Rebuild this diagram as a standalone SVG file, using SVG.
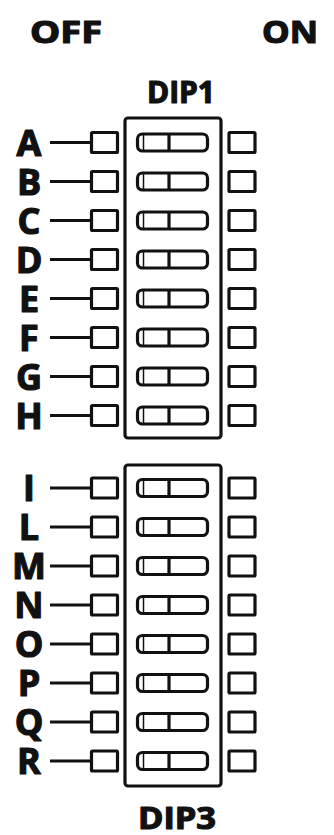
<svg xmlns="http://www.w3.org/2000/svg" xmlns:xlink="http://www.w3.org/1999/xlink" width="334" height="835" viewBox="0 0 334 835">
<style>
.t{font-family:"Open Sans","DejaVu Sans",sans-serif;font-weight:bold;fill:#111;stroke:#111;stroke-width:1.2;stroke-linejoin:round}
.lab{font-size:36px;text-anchor:middle}
.s{fill:none;stroke:#111;stroke-width:3.2}
.ln{stroke:#111;stroke-width:3.2}
.th{stroke:#111;stroke-width:1.5}
</style>
<defs>
<g id="row">
<rect class="s" x="91.5" y="-10" width="26" height="20" rx="1"/>
<rect class="s" x="229" y="-10" width="26" height="20" rx="1"/>
<rect class="s" x="137.5" y="-8.5" width="70" height="17" rx="5"/>
<line class="th" x1="143.5" y1="-8.5" x2="143.5" y2="8.5"/>
<line class="ln" x1="169" y1="-8.5" x2="169" y2="8.5"/>
</g>
</defs>
<rect width="334" height="835" fill="#fff"/>
<g id="headers">
<text class="t" x="30" y="43" font-size="31" textLength="72" lengthAdjust="spacingAndGlyphs">OFF</text>
<text class="t" x="262" y="43" font-size="31" textLength="56" lengthAdjust="spacingAndGlyphs">ON</text>
</g>
<g id="dip1">
<text class="t" x="147" y="103" font-size="30" textLength="68" lengthAdjust="spacingAndGlyphs">DIP1</text>
<rect class="s" x="125" y="118" width="96" height="320" rx="3"/>
</g>
<g id="dip3">
<rect class="s" x="125" y="465" width="96" height="321" rx="3"/>
<text class="t" x="138" y="829" font-size="30" textLength="78" lengthAdjust="spacingAndGlyphs">DIP3</text>
</g>
<g id="connectors">
<line class="ln" x1="50" y1="142.5" x2="90" y2="142.5"/>
<line class="ln" x1="50" y1="181.5" x2="90" y2="181.5"/>
<line class="ln" x1="50" y1="220.5" x2="90" y2="220.5"/>
<line class="ln" x1="50" y1="259.5" x2="90" y2="259.5"/>
<line class="ln" x1="50" y1="298.5" x2="90" y2="298.5"/>
<line class="ln" x1="50" y1="337.5" x2="90" y2="337.5"/>
<line class="ln" x1="50" y1="376.5" x2="90" y2="376.5"/>
<line class="ln" x1="50" y1="415.5" x2="90" y2="415.5"/>
<line class="ln" x1="50" y1="488" x2="90" y2="488"/>
<line class="ln" x1="50" y1="527" x2="90" y2="527"/>
<line class="ln" x1="50" y1="566" x2="90" y2="566"/>
<line class="ln" x1="50" y1="605" x2="90" y2="605"/>
<line class="ln" x1="50" y1="644" x2="90" y2="644"/>
<line class="ln" x1="50" y1="683" x2="90" y2="683"/>
<line class="ln" x1="50" y1="722" x2="90" y2="722"/>
<line class="ln" x1="50" y1="761" x2="90" y2="761"/>
</g>
<g id="sw-A"><use xlink:href="#row" y="142.5"/><text class="t lab" x="29" y="155.5">A</text></g>
<g id="sw-B"><use xlink:href="#row" y="181.5"/><text class="t lab" x="29" y="194.5">B</text></g>
<g id="sw-C"><use xlink:href="#row" y="220.5"/><text class="t lab" x="29" y="233.5">C</text></g>
<g id="sw-D"><use xlink:href="#row" y="259.5"/><text class="t lab" x="29" y="272.5">D</text></g>
<g id="sw-E"><use xlink:href="#row" y="298.5"/><text class="t lab" x="29" y="311.5">E</text></g>
<g id="sw-F"><use xlink:href="#row" y="337.5"/><text class="t lab" x="29" y="350.5">F</text></g>
<g id="sw-G"><use xlink:href="#row" y="376.5"/><text class="t lab" x="29" y="389.5">G</text></g>
<g id="sw-H"><use xlink:href="#row" y="415.5"/><text class="t lab" x="29" y="428.5">H</text></g>
<g id="sw-I"><use xlink:href="#row" y="488"/><text class="t lab" x="29" y="501">I</text></g>
<g id="sw-L"><use xlink:href="#row" y="527"/><text class="t lab" x="29" y="540">L</text></g>
<g id="sw-M"><use xlink:href="#row" y="566"/><text class="t lab" x="29" y="579">M</text></g>
<g id="sw-N"><use xlink:href="#row" y="605"/><text class="t lab" x="29" y="618">N</text></g>
<g id="sw-O"><use xlink:href="#row" y="644"/><text class="t lab" x="29" y="657">O</text></g>
<g id="sw-P"><use xlink:href="#row" y="683"/><text class="t lab" x="29" y="696">P</text></g>
<g id="sw-Q"><use xlink:href="#row" y="722"/><text class="t lab" x="29" y="735">Q</text></g>
<g id="sw-R"><use xlink:href="#row" y="761"/><text class="t lab" x="29" y="774">R</text></g>
</svg>
